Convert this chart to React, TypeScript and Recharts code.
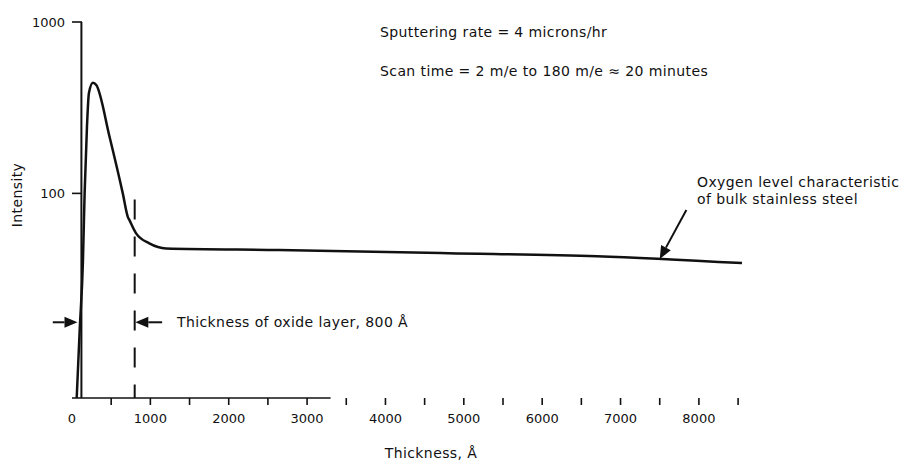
import { CartesianGrid, Line, LineChart, ReferenceLine, XAxis, YAxis } from "recharts";

// thickness in Å, intensity (log scale)
const thickness = [60, 98, 140, 161, 191, 216, 267, 310, 479, 648, 712, 733, 818, 987, 1200, 2640, 4800, 6700, 8550];
const intensity = [6.4, 15.9, 40.8, 100, 245, 385, 442, 429, 214, 100, 73, 69.8, 58.4, 51.1, 47.7, 46.7, 44.8, 43.0, 39.2];

const xTicks = [0, 500, 1000, 1500, 2000, 2500, 3000, 3500, 4000, 4500, 5000, 5500, 6000, 6500, 7000, 7500, 8000, 8500];
const yTicks = [100, 1000];

const Y_MIN = 6.4;
const OXIDE = 800;

const data = thickness.map((t, i) => ({ t, v: intensity[i] }));

const FONT = "'DejaVu Sans', sans-serif";
const INK = "#111";

function XTick(props: any) {
  const { x, y, payload } = props;
  const v = payload.value as number;
  return (
    <g>
      {v > 0 && <line x1={x} y1={y} x2={x} y2={y + 7} stroke={INK} strokeWidth={1.6} />}
      {v % 1000 === 0 && (
        <text x={x} y={y + 25} textAnchor="middle" fontSize={13} fontFamily={FONT} fill={INK}>
          {v}
        </text>
      )}
    </g>
  );
}

function YTick(props: any) {
  const { x, y, payload } = props;
  return (
    <g>
      <line x1={x} y1={y} x2={x + 10} y2={y} stroke={INK} strokeWidth={1.6} />
      <text x={x - 7} y={y + 5} textAnchor="end" fontSize={13} fontFamily={FONT} fill={INK}>
        {payload.value}
      </text>
    </g>
  );
}

function Arrow(props: any) {
  const { x1, y1, x2, y2 } = props;
  const a = Math.atan2(y2 - y1, x2 - x1);
  const len = 13;
  const half = 5.5;
  const bx = x2 - len * Math.cos(a);
  const by = y2 - len * Math.sin(a);
  const px = -Math.sin(a) * half;
  const py = Math.cos(a) * half;
  return (
    <g>
      <line x1={x1} y1={y1} x2={bx} y2={by} stroke={INK} strokeWidth={2} />
      <polygon points={`${x2},${y2} ${bx + px},${by + py} ${bx - px},${by - py}`} fill={INK} />
    </g>
  );
}

export default function App() {
  return (
    <div style={{ position: "absolute", left: 0, top: 0, width: 911, height: 464, background: "#fff" }}>
      <LineChart
        width={911}
        height={464}
        data={data}
        margin={{ top: 22, right: 169, bottom: 6, left: 0 }}
      >
        <CartesianGrid stroke="none" />
        <XAxis
          dataKey="t"
          type="number"
          domain={[0, 8500]}
          ticks={xTicks}
          interval={0}
          axisLine={false}
          tickLine={false}
          tickSize={0}
          tickMargin={0}
          height={60}
          tick={<XTick />}
        />
        <YAxis
          dataKey="v"
          type="number"
          scale="log"
          domain={[Y_MIN, 1000]}
          allowDataOverflow
          ticks={yTicks}
          axisLine={false}
          tickLine={false}
          tickSize={0}
          tickMargin={0}
          width={72}
          tick={<YTick />}
        />
        {/* axis lines as drawn in the original figure */}
        <ReferenceLine x={120} stroke={INK} strokeWidth={2} />
        <ReferenceLine
          segment={[{ x: 0, y: Y_MIN }, { x: 3300, y: Y_MIN }]}
          stroke={INK}
          strokeWidth={1.5}
        />
        <ReferenceLine
          segment={[{ x: OXIDE, y: 92 }, { x: OXIDE, y: Y_MIN }]}
          stroke={INK}
          strokeWidth={2}
          strokeDasharray="20 17"
        />
        <ReferenceLine
          segment={[{ x: -245, y: 17.7 }, { x: 70, y: 17.7 }]}
          ifOverflow="visible"
          shape={<Arrow />}
        />
        <ReferenceLine
          segment={[{ x: 1150, y: 17.7 }, { x: OXIDE + 8, y: 17.7 }]}
          ifOverflow="visible"
          shape={<Arrow />}
        />
        <ReferenceLine
          segment={[{ x: 7840, y: 80 }, { x: 7500, y: 41.4 }]}
          ifOverflow="visible"
          shape={<Arrow />}
        />
        <Line
          dataKey="v"
          type="monotone"
          stroke={INK}
          strokeWidth={2.5}
          dot={false}
          isAnimationActive={false}
        />
      </LineChart>
      <svg
        width={911}
        height={464}
        style={{ position: "absolute", left: 0, top: 0, pointerEvents: "none" }}
        fontFamily={FONT}
        fontSize={14}
        letterSpacing={0.4}
        fill={INK}
      >
        <text x={380} y={37}>Sputtering rate = 4 microns/hr</text>
        <text x={380} y={76}>Scan time = 2 m/e to 180 m/e ≈ 20 minutes</text>
        <text x={697} y={187}>Oxygen level characteristic</text>
        <text x={697} y={204}>of bulk stainless steel</text>
        <text x={177} y={327}>Thickness of oxide layer, 800 Å</text>
        <text x={431} y={458} textAnchor="middle">Thickness, Å</text>
        <text transform="translate(22,195) rotate(-90)" textAnchor="middle">Intensity</text>
      </svg>
    </div>
  );
}
